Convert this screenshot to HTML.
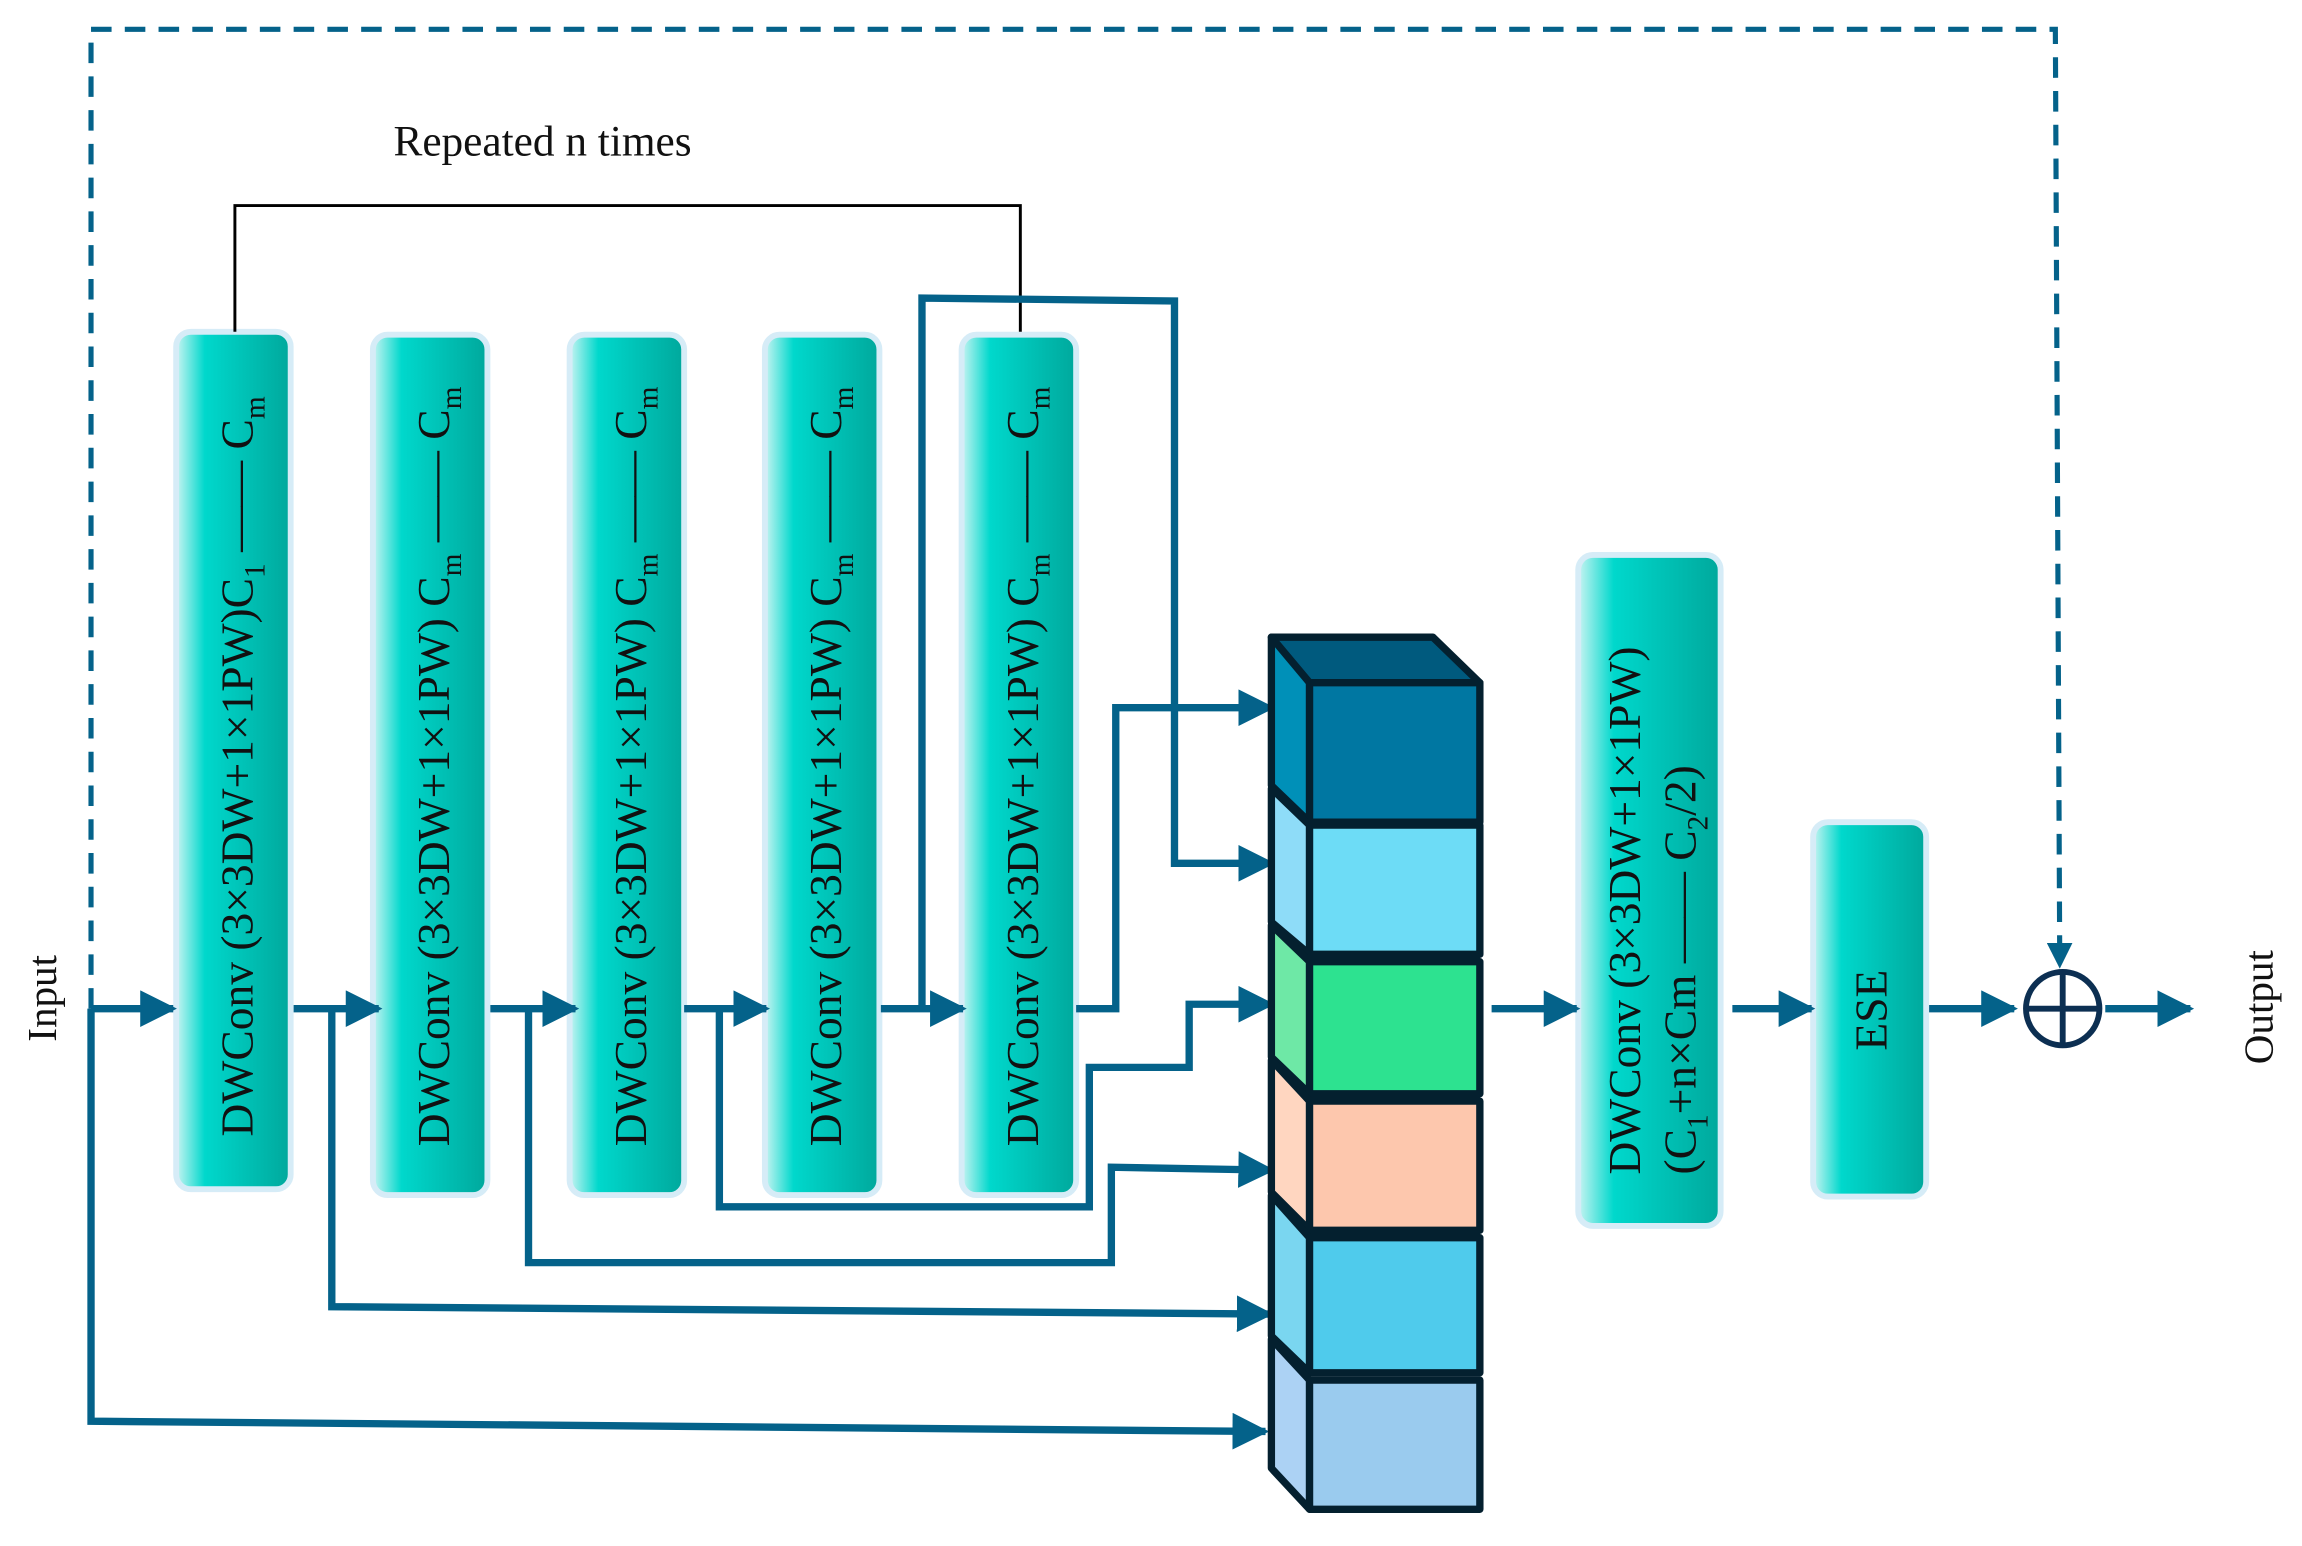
<!DOCTYPE html>
<html><head><meta charset="utf-8"><style>html,body{margin:0;padding:0;background:#fff}svg{display:block}</style></head>
<body>
<svg width="2302" height="1546" viewBox="0 0 1568 1053" preserveAspectRatio="none" xmlns="http://www.w3.org/2000/svg" font-family="Liberation Serif, serif">
<defs>
<linearGradient id="g" x1="0" x2="1" y1="0" y2="0">
<stop offset="0" stop-color="#c8f4f2"/><stop offset="0.25" stop-color="#00d8cc"/><stop offset="1" stop-color="#00a89c"/>
</linearGradient>
<marker id="a" viewBox="0 0 10 10" refX="9" refY="5" markerWidth="5" markerHeight="5" orient="auto" markerUnits="strokeWidth"><path d="M0,0 L10,5 L0,10 z" fill="#04628a"/></marker>
<marker id="ad" viewBox="0 0 10 10" refX="9" refY="5" markerWidth="5" markerHeight="5" orient="auto" markerUnits="strokeWidth"><path d="M0,0 L10,5 L0,10 z" fill="#04628a"/></marker>
</defs>
<g fill="url(#g)" stroke="#d6ecf7" stroke-width="4">
<rect x="120" y="226" width="78" height="584" rx="10"/>
<rect x="254" y="228" width="78" height="586" rx="10"/>
<rect x="388" y="228" width="78" height="586" rx="10"/>
<rect x="521" y="228" width="78" height="586" rx="10"/>
<rect x="655" y="228" width="78" height="586" rx="10"/>
<rect x="1075" y="378" width="97" height="457" rx="10"/>
<rect x="1235" y="560" width="77" height="255" rx="10"/>
</g>
<g font-size="31" fill="#111">
<text transform="translate(172,522) rotate(-90)" text-anchor="middle">DWConv (3×3DW+1×1PW)C<tspan font-size="20" dy="8">1</tspan><tspan dy="-8"> —— C</tspan><tspan font-size="20" dy="8">m</tspan></text>
<text transform="translate(306,522) rotate(-90)" text-anchor="middle">DWConv (3×3DW+1×1PW) C<tspan font-size="20" dy="8">m</tspan><tspan dy="-8"> —— C</tspan><tspan font-size="20" dy="8">m</tspan></text>
<text transform="translate(440,522) rotate(-90)" text-anchor="middle">DWConv (3×3DW+1×1PW) C<tspan font-size="20" dy="8">m</tspan><tspan dy="-8"> —— C</tspan><tspan font-size="20" dy="8">m</tspan></text>
<text transform="translate(573,522) rotate(-90)" text-anchor="middle">DWConv (3×3DW+1×1PW) C<tspan font-size="20" dy="8">m</tspan><tspan dy="-8"> —— C</tspan><tspan font-size="20" dy="8">m</tspan></text>
<text transform="translate(707,522) rotate(-90)" text-anchor="middle">DWConv (3×3DW+1×1PW) C<tspan font-size="20" dy="8">m</tspan><tspan dy="-8"> —— C</tspan><tspan font-size="20" dy="8">m</tspan></text>
<text transform="translate(1117,800) rotate(-90)" text-anchor="start">DWConv (3×3DW+1×1PW)</text>
<text transform="translate(1155,800) rotate(-90)" text-anchor="start">(C<tspan font-size="20" dy="8">1</tspan><tspan dy="-8">+n×Cm —— C</tspan><tspan font-size="20" dy="8">2</tspan><tspan dy="-8">/2)</tspan></text>
<text transform="translate(1285,688) rotate(-90)" text-anchor="middle">ESE</text>
<text transform="translate(38,680) rotate(-90)" text-anchor="middle" font-size="28">Input</text>
<text transform="translate(1548,686) rotate(-90)" text-anchor="middle" font-size="28">Output</text>
<text x="268" y="106" font-size="29.5">Repeated n times</text>
</g>
<polyline points="160,226 160,140 695,140 695,226" fill="none" stroke="#000" stroke-width="2"/>
<polyline points="62,687 62,20 1400,20 1403,658" fill="none" stroke="#04628a" stroke-width="3.5" stroke-dasharray="14,9" marker-end="url(#ad)"/>
<g fill="none" stroke="#04628a" stroke-width="5" marker-end="url(#a)">
<line x1="62" y1="687" x2="118" y2="687"/>
<line x1="200" y1="687" x2="258" y2="687"/>
<line x1="334" y1="687" x2="392" y2="687"/>
<line x1="466" y1="687" x2="522" y2="687"/>
<line x1="600" y1="687" x2="656" y2="687"/>
<line x1="1016" y1="687" x2="1074" y2="687"/>
<line x1="1180" y1="687" x2="1234" y2="687"/>
<line x1="1314" y1="687" x2="1372" y2="687"/>
<line x1="1434" y1="687" x2="1492" y2="687"/>
<polyline points="62,687 62,968 862,975"/>
<polyline points="226,687 226,890 865,895"/>
<polyline points="360,687 360,860 757,860 757,795 866,797"/>
<polyline points="490,687 490,822 742,822 742,727 810,727 810,684 866,684"/>
<polyline points="733,687 760,687 760,482 866,482"/>
<polyline points="628,687 628,203 800,205 800,588 866,588"/>
</g>
<circle cx="1405" cy="687" r="25" fill="#fff" stroke="#0c2f52" stroke-width="4"/>
<line x1="1380" y1="687" x2="1430" y2="687" stroke="#0c2f52" stroke-width="4"/>
<line x1="1405" y1="662" x2="1405" y2="712" stroke="#0c2f52" stroke-width="4"/>
<g stroke="#04202f" stroke-width="5" stroke-linejoin="round">
<polygon points="866,434 976,434 1008,465 892,465" fill="#005a7e"/>
<polygon points="866,434 892,465 892,560 866,535" fill="#0090b8"/>
<rect x="892" y="465" width="116" height="95" fill="#0077a2"/>
<polygon points="866,537 892,562 892,650 866,628" fill="#8edcf8"/>
<rect x="892" y="562" width="116" height="88" fill="#6ddcf6"/>
<polygon points="866,630 892,655 892,745 866,720" fill="#6ee8a6"/>
<rect x="892" y="655" width="116" height="90" fill="#2de290"/>
<polygon points="866,722 892,750 892,838 866,812" fill="#ffd6c0"/>
<rect x="892" y="750" width="116" height="88" fill="#fdc7ad"/>
<polygon points="866,814 892,843 892,935 866,910" fill="#7ad6f0"/>
<rect x="892" y="843" width="116" height="92" fill="#4fcbec"/>
<polygon points="866,912 892,940 892,1028 866,1000" fill="#acd2f4"/>
<rect x="892" y="940" width="116" height="88" fill="#9acbee"/>
</g>
</svg>
</body></html>
